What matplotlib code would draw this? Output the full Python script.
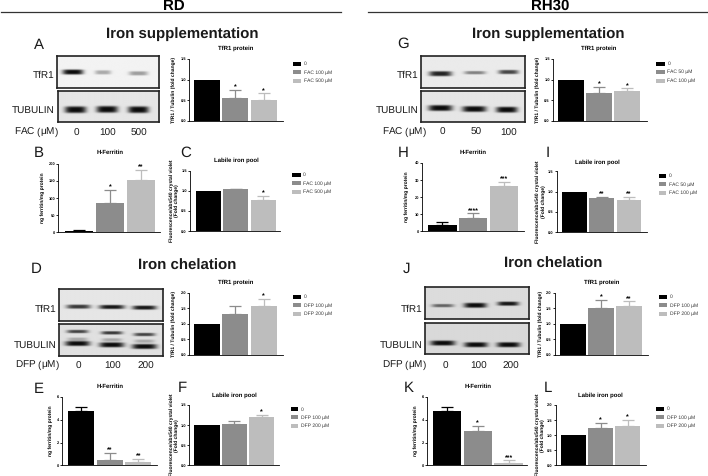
import numpy as np
import matplotlib
matplotlib.use("Agg")
from matplotlib import pyplot as plt

plt.rcParams['font.family'] = ['Liberation Sans', 'DejaVu Sans']
plt.rcParams['mathtext.default'] = 'regular'
plt.rcParams['text.hinting'] = 'none'
plt.rcParams['text.hinting_factor'] = 1

W, H = 708, 476

# bar heights and error bars, 3 bars per panel
a_vals, a_errs, a_stars = [1.0, 0.55, 0.50], [0, 0.21, 0.17], ['', '*', '*']
b_vals, b_errs, b_stars = [5, 85, 153], [2, 39, 29], ['', '*', '**']
c_vals, c_errs, c_stars = [1.0, 1.05, 0.77], [0, 0.01, 0.10], ['', '', '*']
d_vals, d_errs, d_stars = [1.0, 1.32, 1.58], [0, 0.26, 0.22], ['', '', '*']
e_vals, e_errs, e_stars = [4.8, 0.45, 0.25], [0.35, 0.65, 0.30], ['', '**', '**']
f_vals, f_errs, f_stars = [1.0, 1.02, 1.2], [0, 0.07, 0.06], ['', '', '*']
g_vals, g_errs, g_stars = [1.0, 0.67, 0.72], [0, 0.15, 0.07], ['', '*', '*']
h_vals, h_errs, h_stars = [3.5, 8, 26.3], [2.2, 2.5, 2.7], ['', '****', '***']
i_vals, i_errs, i_stars = [1.0, 0.83, 0.79], [0, 0.04, 0.07], ['', '**', '**']
j_vals, j_errs, j_stars = [1.0, 1.52, 1.58], [0, 0.24, 0.14], ['', '*', '**']
k_vals, k_errs, k_stars = [4.75, 3.0, 0.22], [0.4, 0.48, 0.23], ['', '*', '***']
l_vals, l_errs, l_stars = [1.0, 1.24, 1.31], [0, 0.16, 0.19], ['', '*', '*']

ticks_15 = [0.0, 0.5, 1.0, 1.5]
ticks_20 = [0.0, 0.5, 1.0, 1.5, 2.0]
ticks_200 = [0, 50, 100, 150, 200]
ticks_40 = [0, 10, 20, 30, 40]
ticks_6 = [0, 2, 4, 6]

tfr1_label = 'TfR1 / Tubulin (fold change)'
lip_label = 'Fluorescence/abs540 crystal violet\n(Fold change)'
fer_label = 'ng ferritin/mg protein'

legend_fac_rd = ['0', 'FAC 100 µM', 'FAC 500 µM']
legend_dfp = ['0', 'DFP 100 µM', 'DFP 200 µM']
legend_fac_rh = ['0', 'FAC 50 µM', 'FAC 100 µM']

bar_colors = ['#000000', '#8c8c8c', '#bdbdbd']

TITLE = 10.7
LETTER = 11
ROW = 7.5

fig = plt.figure(figsize=(W / 100, H / 100), dpi=100)
# full page axes in pixels for texts, rules and legends
page = fig.add_axes([0, 0, 1, 1], zorder=5)
page.set_xlim(0, W)
page.set_ylim(H, 0)
page.axis('off')
page.patch.set_alpha(0)


def bar_panel(ox, oy, ax0, ax1, y0, ytop, ymax, ticks, bar0, bar2, vals, errs, stars, title, title_x, title_y,
              ylabel, label_x, fmt='{:.1f}'):
    # all geometry is in 3x zoom coordinates, ox/oy are the offset of the crop
    left = ox + ax0 / 3
    right = ox + ax1 / 3
    bottom = oy + y0 / 3
    top = oy + ytop / 3
    ax = fig.add_axes([left / W, 1 - bottom / H, (right - left) / W, (bottom - top) / H])
    spacing = (bar2 - bar0) / 2
    ax.set_xlim((ax0 - bar0) / spacing, (ax1 - bar0) / spacing)
    ax.set_ylim(0, ymax)
    ax.bar(range(3), vals, width=0.92, color=bar_colors)
    for n in range(3):
        if errs[n] > 0:
            ax.errorbar(n, vals[n], yerr=[[0], [errs[n]]], color=bar_colors[n], elinewidth=0.9, capsize=4.2,
                        capthick=0.9)
        if stars[n]:
            ax.text(n, vals[n] + errs[n] - ymax * 0.015, stars[n], ha='center', va='bottom', fontsize=5,
                    fontweight='bold')
    ax.set_xticks([])
    ax.set_yticks(ticks)
    ax.set_yticklabels([fmt.format(t) for t in ticks], fontsize=3.2, fontweight='bold')
    ax.tick_params(axis='y', length=1.5, width=0.6, pad=0.8)
    ax.spines['top'].set_visible(False)
    ax.spines['right'].set_visible(False)
    ax.spines['left'].set_linewidth(0.6)
    ax.spines['bottom'].set_linewidth(0.6)
    ax.patch.set_alpha(0)
    page.text(ox + title_x / 3, oy + title_y / 3, title, ha='center', va='center', fontsize=4.4, fontweight='bold')
    page.text(ox + label_x / 3, (bottom + top) / 2, ylabel, rotation=90, ha='center', va='center', fontsize=3.4,
              fontweight='bold', linespacing=1.1)


def legend(ox, oy, sw0, sw1, rows, text_x, labels):
    for y, color, label in zip(rows, bar_colors, labels):
        page.fill_between([ox + sw0 / 3, ox + sw1 / 3], oy + (y - 6) / 3, oy + (y + 6) / 3, color=color, lw=0)
        page.text(ox + text_x / 3, oy + y / 3, label, ha='left', va='center', fontsize=3.8, color='#333333')


def blot(ox, oy, x0, x1, y0, y1, bands, bg):
    # bands: (x, y, half width, half height, strength) in zoom coordinates
    xs = np.linspace(x0, x1, 200)
    ys = np.linspace(y0, y1, 80)
    xx, yy = np.meshgrid(xs, ys)
    img = np.zeros_like(xx)
    for bx, by, hw, hh, amp in bands:
        img += amp * np.exp(-((xx - bx) / hw) ** 4) * np.exp(-((yy - by) / (hh * 1.25)) ** 4)
    img = np.clip(bg * (1 - img), 0, 1)
    ax = fig.add_axes([(ox + x0 / 3) / W, 1 - (oy + y1 / 3) / H, (x1 - x0) / 3 / W, (y1 - y0) / 3 / H])
    ax.imshow(img, cmap='gray', vmin=0, vmax=1, aspect='auto')
    ax.set_xticks([])
    ax.set_yticks([])
    for s in ax.spines.values():
        s.set_linewidth(1.2)
        s.set_color('#222222')


def words(ox, oy, items):
    for x, y, s, size, weight, ha in items:
        page.text(ox + x / 3, oy + y / 3, s, fontsize=size, fontweight=weight, ha=ha, va='center', color='#1a1a1a')


# header rules and cell lines
page.plot([1, 341], [12, 12], color='#333333', lw=0.9)
page.plot([368, 708], [12, 12], color='#333333', lw=0.9)
page.text(174, 6, 'RD', ha='center', va='center', fontsize=10.5, fontweight='bold')
page.text(550, 6, 'RH30', ha='center', va='center', fontsize=10.5, fontweight='bold')

mu = r'$\mu$'

# RD, iron supplementation
ox, oy = 0, 0
words(ox, oy, [(548, 103, 'Iron supplementation', TITLE, 'bold', 'center'), (117, 135, 'A', LETTER, 'normal', 'center'),
               (117, 460, 'B', LETTER, 'normal', 'center'), (558, 460, 'C', LETTER, 'normal', 'center'),
               (163, 225, 'TfR1', ROW, 'normal', 'right'), (165, 332, 'TUBULIN', ROW, 'normal', 'right'),
               (110, 397, 'FAC (' + mu + 'M)', ROW, 'normal', 'center'), (230, 399, '0', ROW, 'normal', 'center'),
               (323, 399, '100', ROW, 'normal', 'center'), (418, 399, '500', ROW, 'normal', 'center')])
blot(ox, oy, 171, 478, 167, 264, [(218, 217, 31, 6, 0.95), (308, 218, 24, 5, 0.3), (414, 221, 28, 5, 0.35)], 0.95)
blot(ox, oy, 173, 478, 273, 367, [(225, 331, 32, 8, 0.95), (320, 330, 32, 8, 0.95), (414, 331, 31, 8, 0.95)], 0.9)
bar_panel(ox, oy, 568, 848, 363, 177, 1.5, ticks_15, 621, 791, a_vals, a_errs, a_stars, 'TfR1 protein', 706, 145,
          tfr1_label, 522)
legend(ox, oy, 878, 904, [191, 217, 243], 912, legend_fac_rd)
bar_panel(ox, oy, 175, 480, 697, 491, 200, ticks_200, 238, 422, b_vals, b_errs, b_stars, 'H-Ferritin', 330, 457,
          fer_label, 127, fmt='{:d}')
bar_panel(ox, oy, 570, 840, 693, 513, 1.5, ticks_15, 625, 790, c_vals, c_errs, c_stars, 'Labile iron pool', 708, 482,
          lip_label, 522)
legend(ox, oy, 875, 902, [525, 550, 575], 908, legend_fac_rd)

# RD, iron chelation
ox, oy = 0, 236
words(ox, oy, [(562, 90, 'Iron chelation', TITLE, 'bold', 'center'), (110, 98, 'D', LETTER, 'normal', 'center'),
               (117, 460, 'E', LETTER, 'normal', 'center'), (548, 457, 'F', LETTER, 'normal', 'center'),
               (168, 219, 'TfR1', ROW, 'normal', 'right'), (170, 327, 'TUBULIN', ROW, 'normal', 'right'),
               (112, 389, 'DFP (' + mu + 'M)', ROW, 'normal', 'center'), (235, 391, '0', ROW, 'normal', 'center'),
               (337, 391, '100', ROW, 'normal', 'center'), (437, 391, '200', ROW, 'normal', 'center')])
blot(ox, oy, 177, 488, 158, 254, [(235, 211, 36, 5, 0.75), (335, 212, 38, 5, 0.9), (433, 214, 36, 5, 0.9)], 0.9)
blot(ox, oy, 177, 488, 265, 360, [(232, 287, 32, 4, 0.7), (335, 291, 32, 4, 0.75), (433, 296, 32, 4, 0.7),
                                  (232, 310, 30, 4, 0.25), (335, 312, 30, 4, 0.25), (433, 316, 30, 4, 0.25),
                                  (232, 323, 37, 6, 0.95), (335, 327, 37, 6, 0.95), (433, 332, 37, 6, 0.95)], 0.88)
bar_panel(ox, oy, 568, 848, 356, 170, 2.0, ticks_20, 621, 791, d_vals, d_errs, d_stars, 'TfR1 protein', 706, 138,
          tfr1_label, 522)
legend(ox, oy, 878, 904, [182, 208, 234], 912, legend_dfp)
bar_panel(ox, oy, 187, 470, 688, 483, 6, ticks_6, 244, 415, e_vals, e_errs, e_stars, 'H-Ferritin', 330, 450,
          'ng ferritin/mg protein', 153, fmt='{:d}')
bar_panel(ox, oy, 568, 838, 688, 507, 1.5, ticks_15, 621, 785, f_vals, f_errs, f_stars, 'Labile iron pool', 703, 478,
          lip_label, 522)
legend(ox, oy, 873, 893, [520, 544, 569], 902, legend_dfp)

# RH30, iron supplementation
ox, oy = 354, 0
words(ox, oy, [(582, 103, 'Iron supplementation', TITLE, 'bold', 'center'), (147, 132, 'G', LETTER, 'normal', 'center'),
               (147, 458, 'H', LETTER, 'normal', 'center'), (582, 458, 'I', LETTER, 'normal', 'center'),
               (192, 225, 'TfR1', ROW, 'normal', 'right'), (194, 332, 'TUBULIN', ROW, 'normal', 'right'),
               (150, 398, 'FAC (' + mu + 'M)', ROW, 'normal', 'center'), (264, 398, '0', ROW, 'normal', 'center'),
               (366, 398, '50', ROW, 'normal', 'center'), (465, 399, '100', ROW, 'normal', 'center')])
blot(ox, oy, 200, 512, 167, 264, [(258, 222, 34, 6, 0.85), (362, 219, 32, 4, 0.45), (463, 217, 30, 5, 0.7)], 0.92)
blot(ox, oy, 200, 512, 272, 366, [(258, 325, 36, 7, 0.95), (360, 328, 36, 7, 0.95), (458, 330, 32, 7, 0.95)], 0.9)
bar_panel(ox, oy, 597, 878, 363, 177, 1.5, ticks_15, 651, 820, g_vals, g_errs, g_stars, 'TfR1 protein', 735, 145,
          tfr1_label, 552)
legend(ox, oy, 907, 933, [191, 216, 243], 940, legend_fac_rh)
bar_panel(ox, oy, 205, 510, 694, 489, 40, ticks_40, 265, 450, h_vals, h_errs, h_stars, 'H-Ferritin', 358, 457,
          'ng ferritin/mg protein', 157, fmt='{:d}')
bar_panel(ox, oy, 608, 880, 696, 514, 1.5, ticks_15, 662, 825, i_vals, i_errs, i_stars, 'Labile iron pool', 730, 486,
          lip_label, 560)
legend(ox, oy, 914, 936, [528, 553, 579], 944, legend_fac_rh)

# RH30, iron chelation
ox, oy = 354, 236
words(ox, oy, [(597, 83, 'Iron chelation', TITLE, 'bold', 'center'), (157, 98, 'J', LETTER, 'normal', 'center'),
               (165, 456, 'K', LETTER, 'normal', 'center'), (583, 456, 'L', LETTER, 'normal', 'center'),
               (204, 219, 'TfR1', ROW, 'normal', 'right'), (205, 327, 'TUBULIN', ROW, 'normal', 'right'),
               (150, 389, 'DFP (' + mu + 'M)', ROW, 'normal', 'center'), (275, 390, '0', ROW, 'normal', 'center'),
               (373, 390, '100', ROW, 'normal', 'center'), (472, 390, '200', ROW, 'normal', 'center')])
blot(ox, oy, 212, 524, 153, 249, [(265, 209, 33, 4, 0.55), (363, 208, 34, 6, 0.95), (462, 203, 32, 5, 0.9)], 0.86)
blot(ox, oy, 212, 524, 260, 354, [(265, 322, 37, 6, 0.95), (365, 327, 35, 6, 0.95), (463, 327, 35, 6, 0.95)], 0.85)
bar_panel(ox, oy, 602, 882, 356, 170, 2.0, ticks_20, 657, 825, j_vals, j_errs, j_stars, 'TfR1 protein', 742, 138,
          tfr1_label, 559)
legend(ox, oy, 916, 938, [182, 208, 234], 947, legend_dfp)
bar_panel(ox, oy, 220, 520, 688, 483, 6, ticks_6, 279, 464, k_vals, k_errs, k_stars, 'H-Ferritin', 372, 452,
          fer_label, 185, fmt='{:d}')
bar_panel(ox, oy, 605, 875, 688, 507, 2.0, ticks_20, 658, 821, l_vals, l_errs, l_stars, 'Labile iron pool', 740, 478,
          lip_label, 558)
legend(ox, oy, 906, 930, [519, 544, 569], 939, legend_dfp)

fig.savefig('out.png', dpi=100)
